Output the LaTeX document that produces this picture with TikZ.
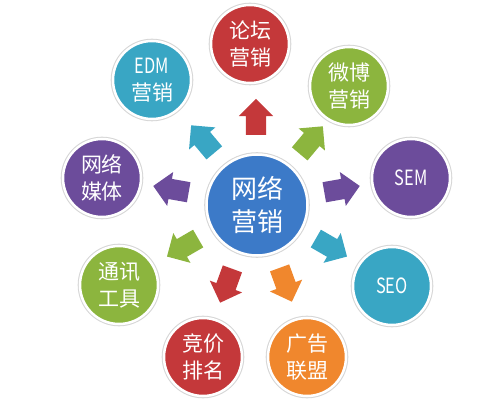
\documentclass[tikz,border=0pt]{standalone}
\usepackage{fontspec}
\newfontfamily\cjk{Noto Sans CJK SC}
\newfontfamily\latn[FakeStretch=0.78]{Noto Sans CJK SC}
\usetikzlibrary{shapes.arrows}
\definecolor{cred}{RGB}{196,56,58}
\definecolor{cteal}{RGB}{57,166,196}
\definecolor{cgreen}{RGB}{140,181,62}
\definecolor{cpurple}{RGB}{108,76,155}
\definecolor{corange}{RGB}{240,135,45}
\definecolor{cblue}{RGB}{60,122,200}
\tikzset{
  ball/.style={circle, fill=#1, draw=white, line width=2.5pt,
    preaction={draw=black!16, line width=4.6pt},
    minimum size=78pt, inner sep=0pt, text=white, align=center,
    font=\cjk\fontsize{21}{27}\selectfont},
  hub/.style={ball=#1, minimum size=101pt, font=\cjk\fontsize{26}{33}\selectfont},
  blockarrow/.style={single arrow, fill=#1, draw=none, minimum height=36pt,
    minimum width=0pt, single arrow head extend=7pt,
    single arrow head indent=0pt, inner xsep=0pt, inner ysep=10pt}
}
\begin{document}
\begin{tikzpicture}[x=1pt,y=1pt]
\useasboundingbox (0,0) rectangle (496,402);
% outer circles
\node[ball=cred]    (lt)  at (250,358) {论坛\\营销};
\node[ball=cgreen]  (wb)  at (349,316) {微博\\营销};
\node[ball=cpurple] (sem) at (411,224) {{\latn SEM}};
\node[ball=cteal]   (seo) at (392,116) {{\latn SEO}};
\node[ball=corange] (gg)  at (307,45)  {广告\\联盟};
\node[ball=cred]    (jj)  at (203,45)  {竞价\\排名};
\node[ball=cgreen]  (tx)  at (119,117) {通讯\\工具};
\node[ball=cpurple] (mt)  at (102,224) {网络\\媒体};
\node[ball=cteal]   (edm) at (152,322) {{\latn EDM}\\营销};
% hub
\node[hub=cblue] (c) at (257,197) {网络\\营销};
% block arrows
\node[blockarrow=cred,    rotate=90]   (a1) at (256,280) {};
\node[blockarrow=cgreen,  rotate=50]   (a2) at (308,258) {};
\node[blockarrow=cpurple, rotate=10]   (a3) at (337,212) {};
\node[blockarrow=cteal,   rotate=-30]  (a4) at (327,157) {};
\node[blockarrow=corange, rotate=-70]  (a5) at (284,122) {};
\node[blockarrow=cred,    rotate=-110] (a6) at (228,121) {};
\node[blockarrow=cgreen,  rotate=-150] (a7) at (187,157) {};
\node[blockarrow=cpurple, rotate=170]  (a8) at (176,212) {};
\node[blockarrow=cteal,   rotate=130]  (a9) at (206,259) {};
\end{tikzpicture}
\end{document}
